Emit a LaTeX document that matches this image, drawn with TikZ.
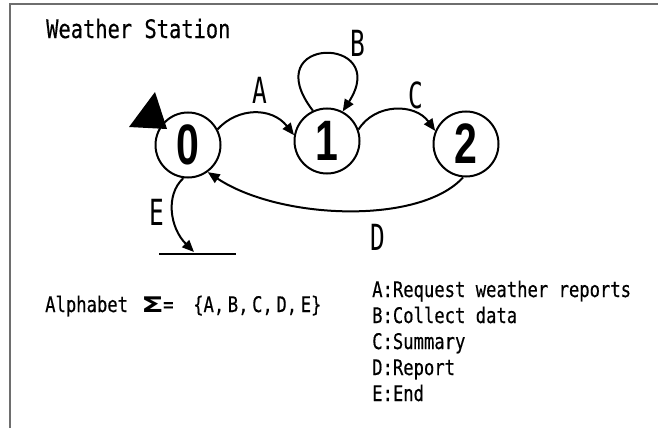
\documentclass[tikz,border=0pt]{standalone}
\usepackage{fontspec}
\usepackage{graphicx}
\usetikzlibrary{arrows.meta}
\newfontfamily\gothic[FakeStretch=0.8,FakeBold=0.4]{DejaVu Sans Mono}
\newfontfamily\lblfont[FakeStretch=0.68]{DejaVu Sans Mono}
\newfontfamily\digitfont[FakeStretch=0.72]{Liberation Sans}
\newfontfamily\sigmafont{DejaVu Sans}
\definecolor{framegray}{RGB}{110,110,110}
\begin{document}
\begin{tikzpicture}[x=1pt,y=-1pt,
  state/.style={circle,draw,line width=2pt,minimum size=65pt,inner sep=0pt,
    font=\digitfont\bfseries\fontsize{57}{57}\selectfont},
  edge/.style={line width=2pt,-{Triangle[length=12pt,width=10pt]}},
  lbl/.style={inner sep=0pt,font=\lblfont\fontsize{36}{36}\selectfont},
  txt/.style={inner sep=0pt,anchor=base west,font=\gothic\fontsize{21.5}{21.5}\selectfont},
  ttl/.style={inner sep=0pt,anchor=base west,font=\gothic\fontsize{25.5}{25.5}\selectfont}]
\useasboundingbox (0,0) rectangle (658,428);
\draw[line width=1.5pt,color=framegray] (10,428) -- (10,4) -- (658,4);
% title
\node[ttl] (title) at (46,38) {Weather Station};
% states
\node[state] (n0) at (188,145) {0};
\node[state] (n1) at (327,141) {1};
\node[state] (n2) at (466,144) {2};
% initial marker
\fill (129,127) -- (155,92) -- (167,129) -- cycle;
% transitions
\draw[edge] (n0.28) .. controls (238,107) and (272,107) .. (n1.170);
\draw[edge] (n1.115) .. controls (255,35) and (392,35) .. (n1.62);
\draw[edge] (n1.20) .. controls (375,103) and (415,103) .. (n2.157);
\draw[edge] (n2.-95) .. controls (420,225) and (280,220) .. (n0.-54);
\coordinate (sinkL) at (159,254);
\coordinate (sinkR) at (236,254);
\coordinate (sink) at (194,252);
\draw[edge] (n0.-98) .. controls (165,195) and (170,228) .. (sink);
\draw[line width=2pt] (sinkL) -- (sinkR);
% labels
\node[lbl] (la) at (260,90) {A};
\node[lbl] (lb) at (358,43) {B};
\node[lbl] (lc) at (416,95) {C};
\node[lbl] (ld) at (378,237) {D};
\node[lbl] (le) at (157,212) {E};
% alphabet
\node[txt] (alph) at (45,312) {Alphabet};
\node[txt] (sig) at (141,312) {\sigmafont\bfseries\scalebox{1.55}[1]{Σ}};
\node[txt] (eq) at (163,312) {=};
\node[txt] (set) at (193,312) {\{A,\,B,\,C,\,D,\,E\}};
% legend
\node[txt] (l1) at (372,297) {A:Request weather reports};
\node[txt] (l2) at (372,323) {B:Collect data};
\node[txt] (l3) at (372,349) {C:Summary};
\node[txt] (l4) at (372,375) {D:Report};
\node[txt] (l5) at (372,401) {E:End};
\end{tikzpicture}
\end{document}
